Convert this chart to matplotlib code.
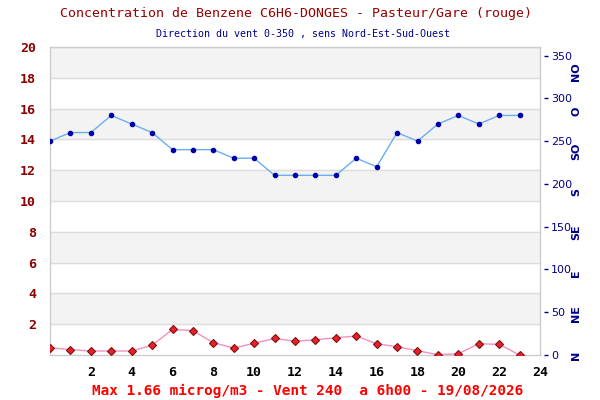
import matplotlib
matplotlib.use("Agg")
import matplotlib.pyplot as plt

# Heures et mesures
heures = list(range(24))
benzene = [0.47, 0.35, 0.26, 0.26, 0.26, 0.63, 1.66, 1.58, 0.80, 0.45, 0.76, 1.08,
           0.89, 0.99, 1.12, 1.23, 0.73, 0.54, 0.28, 0.02, 0.08, 0.73, 0.69, 0.0]
vent = [250, 260, 260, 280, 270, 260, 240, 240, 240, 230, 230, 210,
        210, 210, 210, 230, 220, 260, 250, 270, 280, 270, 280, 280]

x_ticks = [2, 4, 6, 8, 10, 12, 14, 16, 18, 20, 22, 24]
y_ticks = [2, 4, 6, 8, 10, 12, 14, 16, 18, 20]
vent_ticks = [0, 50, 100, 150, 200, 250, 300, 350]
directions = ["N", "NE", "E", "SE", "S", "SO", "O", "NO"]

titre = "Concentration de Benzene C6H6-DONGES - Pasteur/Gare (rouge)"
sous_titre = "Direction du vent 0-350 , sens Nord-Est-Sud-Ouest"
legende = "Max 1.66 microg/m3 - Vent 240  a 6h00 - 19/08/2026"

mono = "DejaVu Sans Mono"
bleu = "#00008b"
rouge_fonce = "#8b0000"

fig = plt.figure(figsize=(6, 4), dpi=100)
ax = fig.add_axes([50 / 600, 45 / 400, 490 / 600, 308 / 400])

# bandes alternees
for y0 in range(0, 20, 2):
    if (y0 // 2) % 2 == 1:
        ax.axhspan(y0, y0 + 2, color="#f3f3f3", zorder=0)
for y0 in y_ticks:
    ax.axhline(y0, color="#dddddd", lw=1, zorder=0.5)

ax.plot(heures, benzene, color="#f590c0", lw=1, zorder=3)
ax.plot(heures, benzene, ls="none", marker="D", ms=4.5, mfc="#e8202a",
        mec="#801010", mew=0.8, zorder=4)

ax.set_xlim(0, 24)
ax.set_ylim(0, 20)
ax.set_xticks(x_ticks)
ax.set_yticks(y_ticks)
ax.tick_params(axis="both", length=0)
ax.tick_params(axis="x", pad=8)
ax.tick_params(axis="y", pad=10)
for lab in ax.get_xticklabels():
    lab.set_fontfamily(mono)
    lab.set_fontweight("bold")
    lab.set_fontsize(9.5)
    lab.set_color("black")
for lab in ax.get_yticklabels():
    lab.set_fontfamily(mono)
    lab.set_fontweight("bold")
    lab.set_fontsize(9.5)
    lab.set_color(rouge_fonce)
for s in ax.spines.values():
    s.set_color("#cccccc")
    s.set_linewidth(1)

# axe du vent
ax2 = ax.twinx()
ax2.plot(heures, vent, color="#6aaef0", lw=1, zorder=3)
ax2.plot(heures, vent, ls="none", marker="o", ms=3, color="#0000aa", zorder=4)
ax2.set_ylim(0, 360)
ax2.set_xlim(0, 24)
ax2.set_yticks(vent_ticks)
ax2.spines["right"].set_position(("outward", 3))
for s in ax2.spines.values():
    s.set_visible(False)
ax2.tick_params(axis="y", length=3, width=1, color=bleu, labelcolor=bleu,
                labelsize=8, pad=2)

pos_dir = [0, 48, 96, 143, 190, 238, 285, 331]
for p, d in zip(pos_dir, directions):
    ax2.text(1.074, p, d, transform=ax2.get_yaxis_transform(), rotation=90,
             ha="center", va="center", fontsize=8, fontweight="bold",
             color=bleu, fontfamily="DejaVu Sans")

fig.text(0.494, 0.965, titre, ha="center", va="center", fontsize=9.5,
         fontfamily=mono, color="#990000")
fig.text(0.505, 0.915, sous_titre, ha="center", va="center", fontsize=7.2,
         fontfamily=mono, color=bleu)
fig.text(0.512, 0.022, legende, ha="center", va="center", fontsize=10.4,
         fontfamily=mono, fontweight="bold", color="#ff0000")

fig.savefig("out.png", dpi=100)
